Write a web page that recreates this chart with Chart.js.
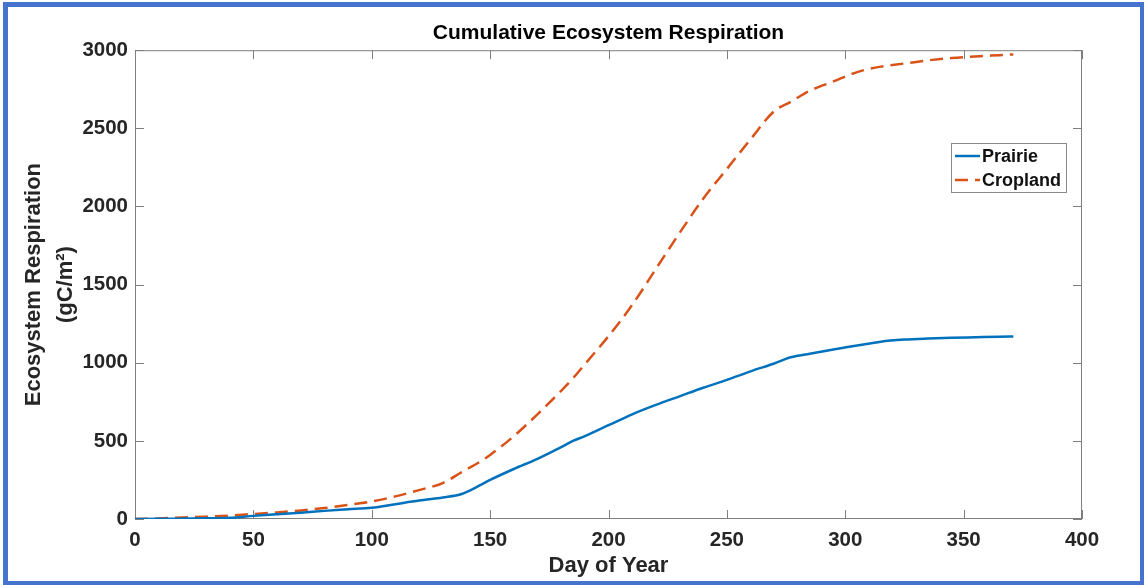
<!DOCTYPE html>
<html>
<head>
<meta charset="utf-8">
<script src="https://cdn.jsdelivr.net/npm/chart.js@4"></script>
<style>
  html, body { margin: 0; padding: 0; background: #ffffff; }
  #wrap { position: relative; width: 1144px; height: 585px; }
  #frame { position: absolute; left: 3px; top: 2px; right: 0; bottom: 0;
           border-style: solid; border-color: #4674cc; border-width: 5px 4px 4px 5px;
           pointer-events: none; }
</style>
</head>
<body>
<div id="wrap">
  <canvas id="c" width="1144" height="585"></canvas>
  <div id="frame"></div>
</div>
<script>
const days = [0,10,20,30,40,50,60,70,80,90,100,110,120,130,138,145,150,160,170,180,185,190,200,210,220,230,240,250,260,270,277,285,295,305,315,325,335,345,355,365,371];
const prairie = [0,1,3,5,8,20,30,40,52,62,72,95,118,138,160,210,250,320,385,460,500,530,600,670,730,785,840,890,945,995,1035,1058,1085,1110,1135,1148,1155,1160,1163,1166,1168];
const cropland = [0,4,10,15,22,32,42,55,70,90,112,145,185,230,300,360,410,530,670,820,900,990,1170,1370,1600,1830,2050,2240,2430,2610,2670,2740,2800,2860,2895,2915,2935,2950,2960,2968,2973];
const xTicks = [0,50,100,150,200,250,300,350,400];
const yTicks = [0,500,1000,1500,2000,2500,3000];
const seriesNames = ['Prairie','Cropland'];
const seriesColors = ['#0072BD','#D95319'];

const FONT = '"Liberation Sans", Arial, Helvetica, sans-serif';

const toPts = arr => days.map((d,i)=>({x:d, y:arr[i]}));

const boxPlugin = {
  id: 'boxPlugin',
  beforeDatasetsDraw(chart) {
    const {ctx, chartArea:a, scales:{x, y}} = chart;
    ctx.save();
    ctx.strokeStyle = '#7f7f7f';
    ctx.lineWidth = 1;
    ctx.strokeRect(a.left+0.5, a.top+0.5, a.right-a.left-1, a.bottom-a.top-1);
    const tl = 9;
    ctx.beginPath();
    xTicks.forEach(v=>{
      const px = Math.round(x.getPixelForValue(v))+0.5;
      ctx.moveTo(px, a.bottom); ctx.lineTo(px, a.bottom-tl);
      ctx.moveTo(px, a.top); ctx.lineTo(px, a.top+tl);
    });
    yTicks.forEach(v=>{
      const py = Math.round(y.getPixelForValue(v))+0.5;
      ctx.moveTo(a.left, py); ctx.lineTo(a.left+tl, py);
      ctx.moveTo(a.right, py); ctx.lineTo(a.right-tl, py);
    });
    ctx.stroke();
    ctx.restore();
  },
  afterDraw(chart) {
    const {ctx} = chart;
    const bx = 951, by = 143, bw = 115, bh = 49;
    ctx.save();
    ctx.fillStyle = '#ffffff';
    ctx.fillRect(bx, by, bw, bh);
    ctx.strokeStyle = '#8a8a8a';
    ctx.lineWidth = 1;
    ctx.strokeRect(bx+0.5, by+0.5, bw, bh);
    ctx.font = 'bold 18px ' + FONT;
    ctx.textBaseline = 'middle';
    ctx.fillStyle = '#111111';
    const rows = [156, 180];
    chart.data.datasets.forEach((ds, i) => {
      ctx.beginPath();
      ctx.strokeStyle = ds.borderColor;
      ctx.lineWidth = 2.5;
      ctx.setLineDash(ds.borderDash || []);
      ctx.moveTo(955, rows[i]); ctx.lineTo(980, rows[i]);
      ctx.stroke();
      ctx.setLineDash([]);
      ctx.fillText(ds.label, 982, rows[i]+1);
    });
    ctx.restore();
  }
};

new Chart(document.getElementById('c'), {
  type: 'line',
  data: {
    datasets: [
      { label: seriesNames[0], data: toPts(prairie), borderColor: seriesColors[0], borderWidth: 2.5,
        pointRadius: 0, fill: false, cubicInterpolationMode: 'monotone' },
      { label: seriesNames[1], data: toPts(cropland), borderColor: seriesColors[1], borderWidth: 2.5,
        borderDash: [13, 7], pointRadius: 0, fill: false, cubicInterpolationMode: 'monotone' }
    ]
  },
  options: {
    responsive: false,
    animation: false,
    devicePixelRatio: 1,
    layout: { padding: { left: 0, right: 62, top: 0, bottom: 0 } },
    plugins: {
      legend: { display: false },
      tooltip: { enabled: false },
      title: {
        display: true, text: 'Cumulative Ecosystem Respiration', fullSize: false,
        color: '#000000', font: { family: FONT, size: 21, weight: 'bold', lineHeight: 1.2 },
        padding: { top: 21, bottom: 4 }
      }
    },
    scales: {
      x: {
        type: 'linear', min: 0, max: 400,
        afterBuildTicks: s => { s.ticks = xTicks.map(v=>({value:v})); },
        afterFit: s => { s.height = 66; },
        grid: { display: false, drawTicks: false },
        border: { display: false },
        ticks: { color: '#262626', padding: 9, font: { family: FONT, size: 20.5, weight: 'bold' },
                 callback: v => String(v) },
        title: { display: true, text: 'Day of Year', color: '#262626',
                 font: { family: FONT, size: 22, weight: 'bold', lineHeight: 1.2 },
                 padding: { top: 0, bottom: 6 } }
      },
      y: {
        type: 'linear', min: 0, max: 3000,
        afterBuildTicks: s => { s.ticks = yTicks.map(v=>({value:v})); },
        afterFit: s => { s.width = 135; },
        grid: { display: false, drawTicks: false },
        border: { display: false },
        ticks: { color: '#262626', padding: 7, font: { family: FONT, size: 20.5, weight: 'bold' },
                 callback: v => String(v) },
        title: { display: true, text: ['Ecosystem Respiration', '(gC/m\u00B2)'], color: '#262626',
                 font: { family: FONT, size: 22, weight: 'bold', lineHeight: 1.45 },
                 padding: { top: 18, bottom: 0 } }
      }
    }
  },
  plugins: [boxPlugin]
});
</script>
</body>
</html>
